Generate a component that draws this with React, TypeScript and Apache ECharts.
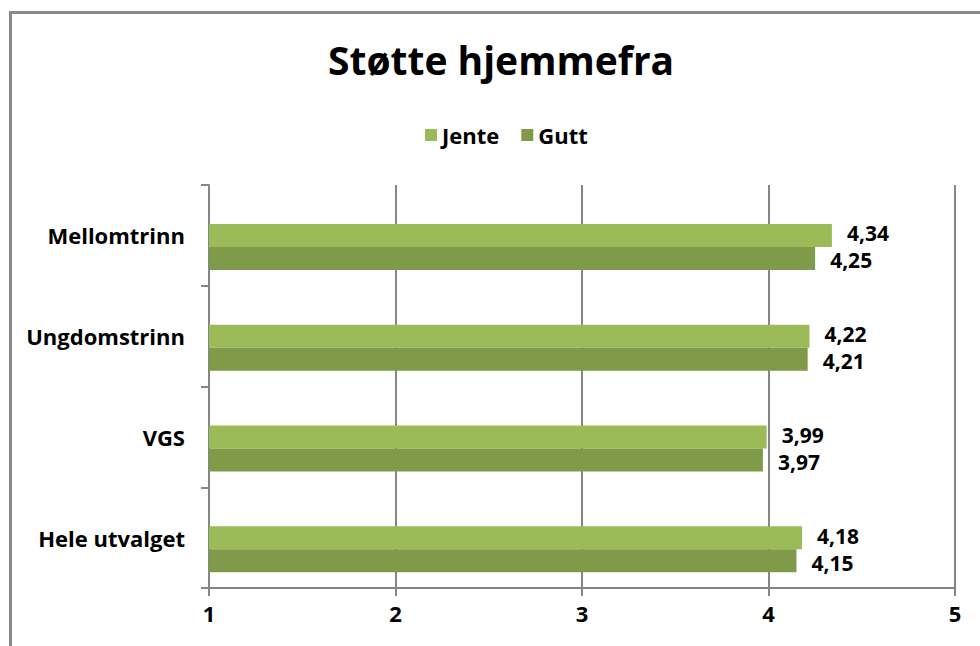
import React, { useEffect, useRef } from "react";
import * as echarts from "echarts";

const categories = ["Hele utvalget", "VGS", "Ungdomstrinn", "Mellomtrinn"];
const jente = [4.18, 3.99, 4.22, 4.34];
const gutt = [4.15, 3.97, 4.21, 4.25];
const xTicks = [1, 2, 3, 4, 5];

const FONT = "'Open Sans', sans-serif";

export default function App() {
  const ref = useRef<HTMLDivElement>(null);
  useEffect(() => {
    if (!ref.current) return;
    const chart = echarts.init(ref.current, undefined, { renderer: "svg" });
    const fmt = (p: any) => String(p.value).replace(".", ",");
    const lbl = (dy: number) => ({
      show: true,
      position: "right",
      distance: 15,
      offset: [0, dy],
      formatter: fmt,
      color: "#000",
      fontFamily: FONT,
      fontWeight: "bold",
      fontSize: 21,
      lineHeight: 21,
    });
    chart.setOption({
      animation: false,
      backgroundColor: "#fff",
      title: {
        text: "Støtte hjemmefra",
        left: 323,
        top: 35,
        textStyle: { fontFamily: FONT, fontWeight: "bold", fontSize: 39, color: "#000" },
      },
      legend: {
        data: ["Jente", "Gutt"],
        top: 119,
        left: 420,
        itemWidth: 12,
        itemHeight: 12,
        itemGap: 22,
        icon: "rect",
        textStyle: { fontFamily: FONT, fontWeight: "bold", fontSize: 22, color: "#000" },
      },
      graphic: [
        {
          type: "rect",
          shape: { x: 10.5, y: 12.5, width: 1100, height: 800 },
          style: { fill: "none", stroke: "#8a8a8a", lineWidth: 3 },
          silent: true,
        },
      ],
      grid: { left: 209, right: 25, top: 185, bottom: 58 },
      xAxis: {
        type: "value",
        min: xTicks[0],
        max: xTicks[xTicks.length - 1],
        interval: 1,
        axisLine: { show: true, lineStyle: { color: "#868686", width: 2 } },
        axisTick: { show: true, length: 8, lineStyle: { color: "#868686", width: 2 } },
        splitLine: { show: true, lineStyle: { color: "#868686", width: 2 } },
        axisLabel: {
          margin: 14,
          color: "#000",
          fontFamily: FONT,
          fontWeight: "bold",
          fontSize: 22,
        },
      },
      yAxis: {
        type: "category",
        data: categories,
        axisLine: { show: true, lineStyle: { color: "#868686", width: 2 } },
        axisTick: { show: true, length: 8, lineStyle: { color: "#868686", width: 2 } },
        axisLabel: {
          margin: 24,
          color: "#000",
          fontFamily: FONT,
          fontWeight: "bold",
          fontSize: 22,
        },
      },
      series: [
        {
          name: "spacer",
          type: "bar",
          data: categories.map(() => "-"),
          barWidth: 23,
          barGap: "0%",
        },
        {
          name: "Jente",
          type: "bar",
          data: jente,
          barWidth: 23,
          barGap: "0%",
          itemStyle: { color: "#9BBB59" },
          label: lbl(-2),
        },
        {
          name: "Gutt",
          type: "bar",
          data: gutt,
          barWidth: 23,
          barGap: "0%",
          itemStyle: { color: "#7F9A48" },
          label: lbl(2),
        },
      ],
    });
    return () => chart.dispose();
  }, []);
  return (
    <div style={{ position: "absolute", left: 0, top: 0, width: 980, height: 646, overflow: "hidden" }}>
      <div ref={ref} style={{ width: 980, height: 646 }} />
    </div>
  );
}
